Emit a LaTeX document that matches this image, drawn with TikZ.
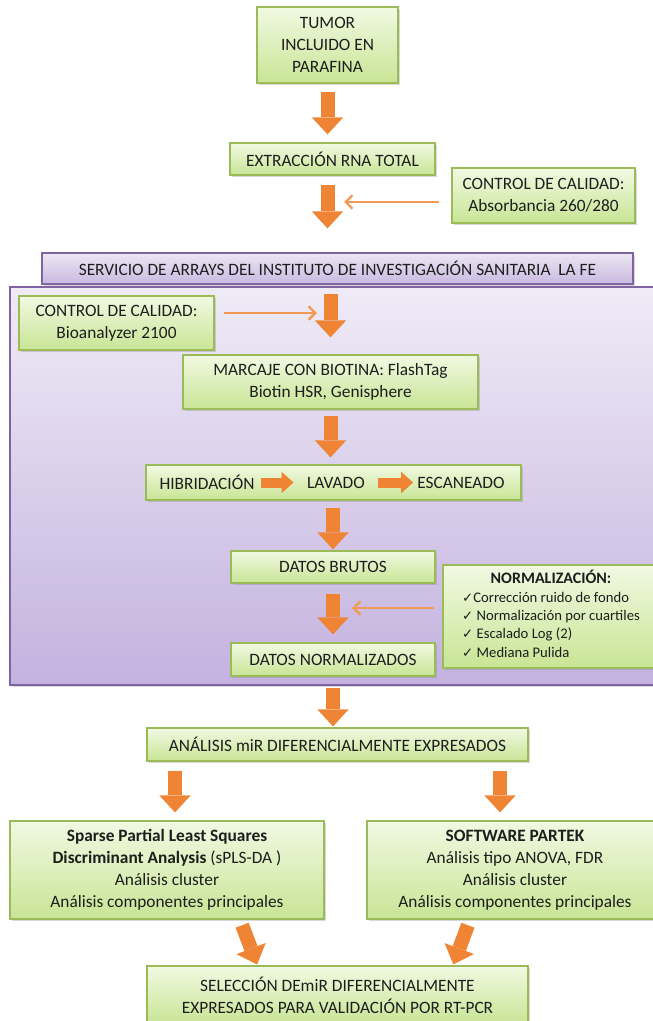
\documentclass[tikz,border=0pt]{standalone}
\usepackage{fontspec}
\setmainfont{Carlito}
\newfontfamily\symfont{DejaVu Sans}
\usepackage{xcolor}
\definecolor{cGreenTop}{HTML}{F1F9E2}
\definecolor{cGreenBot}{HTML}{C8E595}
\definecolor{cGreenLine}{HTML}{9BBB59}
\definecolor{cPurpTop}{HTML}{ECE6F3}
\definecolor{cPurpBot}{HTML}{C9B9E0}
\definecolor{cPurpLine}{HTML}{8064A2}
\definecolor{cPanelTop}{HTML}{EFEBF6}
\definecolor{cPanelBot}{HTML}{C4B2DF}
\definecolor{cOrange}{HTML}{EF8534}
\definecolor{cOrangeThin}{HTML}{F29A55}
\definecolor{cText}{HTML}{1E1E1E}
\usetikzlibrary{arrows.meta,calc,shadows}
\newcommand{\chk}{{\symfont\fontsize{10}{10}\selectfont ✓}}
\tikzset{
  boxsize/.style 2 args={minimum width=#1*0.75pt,minimum height=#2*0.75pt},
  box-green/.style={draw=cGreenLine,line width=0.9pt,top color=cGreenTop,
    bottom color=cGreenBot,inner sep=0pt,align=center,text=cText,
    font=\fontsize{13}{16.5}\selectfont,
    drop shadow={shadow xshift=1.2pt,shadow yshift=-1.5pt,opacity=0.3}},
  box-purple/.style={draw=cPurpLine,line width=0.9pt,top color=cPurpTop,
    bottom color=cPurpBot,inner sep=0pt,align=center,text=cText,
    font=\fontsize{13}{16.5}\selectfont,
    drop shadow={shadow xshift=1.2pt,shadow yshift=-1.5pt,opacity=0.3}},
  panel-purple/.style={draw=cPurpLine,line width=0.9pt,top color=cPanelTop,
    bottom color=cPanelBot,inner sep=0pt,
    drop shadow={shadow xshift=1.2pt,shadow yshift=-1.5pt,opacity=0.3}},
  label-plain/.style={inner sep=0pt,text=cText,font=\fontsize{13}{16.5}\selectfont},
  arrow-block/.style={-{Triangle[length=12.75pt,width=23.5pt,line width=0pt]},
    line width=10.5pt,draw=cOrange},
  arrow-small/.style={-{Triangle[length=9pt,width=16pt,line width=0pt]},
    line width=7.5pt,draw=cOrange},
  arrow-thin/.style={-{Straight Barb[length=5pt,width=10pt]},line width=1.8pt,
    draw=cOrangeThin},
}

\begin{document}
\begin{tikzpicture}[x=0.75pt,y=-0.75pt]
  \useasboundingbox (0,0) rectangle (653,1021);
  \node[box-green,boxsize={141}{76}] (tumor) at (327.5,45) {TUMOR\\INCLUIDO EN\\PARAFINA};
  \node[box-green,boxsize={205}{32}] (extr) at (332.5,159) {EXTRACCIÓN RNA TOTAL};
  \node[box-green,boxsize={183}{55}] (qc1) at (543.5,195.5) {CONTROL DE CALIDAD:\\Absorbancia 260/280};
  \node[box-purple,boxsize={591}{31}] (hdr) at (337.5,268.5) {SERVICIO DE ARRAYS DEL INSTITUTO DE INVESTIGACIÓN SANITARIA\ \ LA FE};
  \node[panel-purple,boxsize={655}{398}] (panel) at (337.5,486) {};
  \node[box-green,boxsize={195}{54}] (qc2) at (116.5,323) {CONTROL DE CALIDAD:\\Bioanalyzer 2100};
  \node[box-green,boxsize={295}{54}] (marc) at (330.5,382) {MARCAJE CON BIOTINA: FlashTag\\Biotin HSR, Genisphere};
  \node[box-green,boxsize={375}{35}] (hib) at (333.5,482.5) {};
  \node[label-plain] (hibl) at (207,482.5) {HIBRIDACIÓN};
  \node[label-plain] (lav)  at (336,482.5) {LAVADO};
  \node[label-plain] (esc)  at (461,482.5) {ESCANEADO};
  \node[box-green,boxsize={204}{32}] (brutos) at (333,567) {DATOS BRUTOS};
  \node[box-green,boxsize={216}{103},font=\fontsize{11}{13.7}\selectfont] (nbox) at (551,616.5)
    {\begin{tabular}{@{}l@{}}
      \multicolumn{1}{@{}c@{}}{\fontsize{12}{13.7}\selectfont\bfseries NORMALIZACIÓN:}\\
      \chk Corrección ruido de fondo\\
      \chk\ Normalización por cuartiles\\
      \chk\ Escalado Log (2)\\
      \chk\ Mediana Pulida
    \end{tabular}};
  \node[box-green,boxsize={204}{33}] (normd) at (333,659.5) {DATOS NORMALIZADOS};
  \node[box-green,boxsize={381}{33}] (anal) at (337.5,744.5) {ANÁLISIS miR DIFERENCIALMENTE EXPRESADOS};
  \node[box-green,boxsize={314}{98}] (sparse) at (167,870)
    {\textbf{Sparse Partial Least Squares}\\\textbf{Discriminant Analysis} (sPLS-DA )\\Análisis cluster\\Análisis componentes principales};
  \node[box-green,boxsize={296}{98}] (partek) at (515,870)
    {\textbf{SOFTWARE PARTEK}\\Análisis tipo ANOVA, FDR\\Análisis cluster\\Análisis componentes principales};
  \node[box-green,boxsize={381}{58}] (sel) at (337.5,995)
    {SELECCIÓN DEmiR DIFERENCIALMENTE\\EXPRESADOS PARA VALIDACIÓN POR RT-PCR};
  \coordinate (qc1in) at (344,202);
  \coordinate (qc2in) at (317,313);
  \coordinate (nin)   at (352,608);
  % flechas principales
  \draw[arrow-block,shorten <=6pt,shorten >=6pt] (tumor.south) -- (tumor.south |- extr.north);
  \draw[arrow-block,shorten <=6.75pt,shorten >=18pt] (extr.south -| tumor.south) -- (hdr.north -| tumor.south);
  \draw[arrow-block,shorten <=6pt,shorten >=12.75pt] (panel.north -| marc.north) -- (marc.north);
  \draw[arrow-block,shorten <=4.5pt,shorten >=5.25pt] (marc.south) -- (marc.south |- hib.north);
  \draw[arrow-block,shorten <=5.25pt,shorten >=0.75pt] (hib.south -| brutos.north) -- (brutos.north);
  \draw[arrow-block,shorten <=7.5pt,shorten >=6pt] (brutos.south) -- (normd.north);
  \draw[arrow-block,shorten <=8.25pt,shorten >=0.75pt] (normd.south) -- (normd.south |- anal.north);
  \draw[arrow-block,shorten <=6.75pt,shorten >=6pt] (anal.south -| 175,0) -- (sparse.north -| 175,0);
  \draw[arrow-block,shorten <=6.75pt,shorten >=6pt] (anal.south -| 500,0) -- (partek.north -| 500,0);
  \draw[arrow-block,shorten <=4.5pt,shorten >=0.75pt] ($(sparse.south)+(73,0)$) -- ($(sel.north)+(-80,0)$);
  \draw[arrow-block,shorten <=4.5pt,shorten >=0.75pt] ($(partek.south)+(-45,0)$) -- ($(sel.north)+(115.5,0)$);
  % flechas internas
  \draw[arrow-small,shorten <=4.5pt,shorten >=10pt] (hibl) -- (lav);
  \draw[arrow-small,shorten <=9.75pt,shorten >=3pt] (lav) -- (esc);
  % controles
  \draw[arrow-thin,shorten <=9pt] (qc1.west |- qc1in) -- (qc1in);
  \draw[arrow-thin,shorten <=6.75pt] (qc2.east |- qc2in) -- (qc2in);
  \draw[arrow-thin,shorten <=6pt] (nbox.west |- nin) -- (nin);
\end{tikzpicture}
\end{document}
